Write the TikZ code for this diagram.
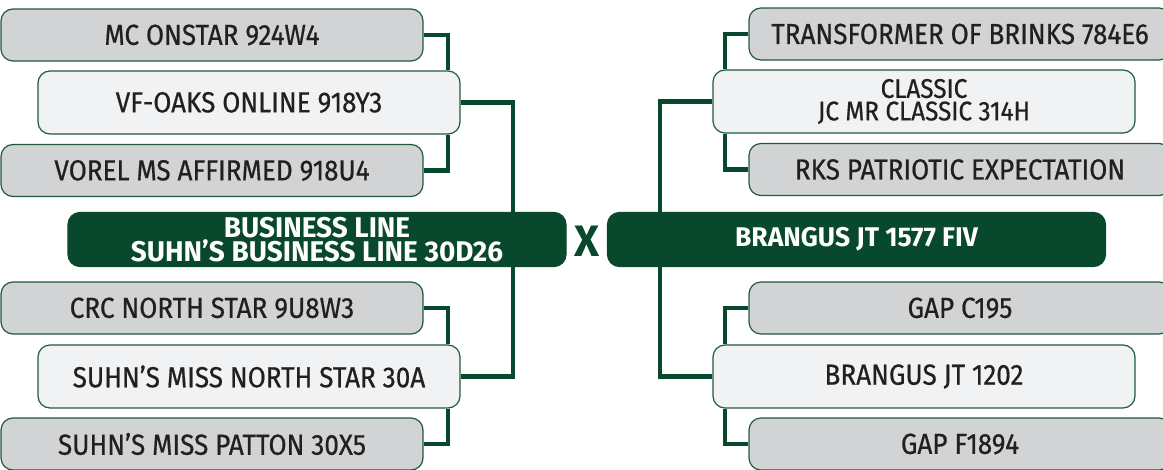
\documentclass[tikz,border=0pt]{standalone}
\usepackage{fontspec}
\setmainfont{Fira Sans}[FakeStretch=0.9, FakeBold=0.6, BoldFeatures={FakeStretch=0.98, FakeBold=0}]
\usetikzlibrary{positioning}

\definecolor{pedgreen}{HTML}{08482C}
\definecolor{pedline}{HTML}{1F5A3B}
\definecolor{pedgrey}{HTML}{D1D3D4}
\definecolor{pedlight}{HTML}{F1F2F3}
\definecolor{pedtext}{HTML}{231F20}

\begin{document}
\begin{tikzpicture}[
    x=1pt, y=-1pt,
    every node/.style={font=\fontsize{29}{22}\selectfont, text=pedtext, align=center, inner sep=0pt},
    anc/.style={draw=pedline, line width=1.2pt, rounded corners=12pt},
    outer/.style={anc, fill=pedgrey, minimum width=422pt, minimum height=52pt},
    inner/.style={anc, fill=pedlight, minimum width=422pt, minimum height=63pt},
    parent/.style={anc, fill=pedgreen, draw=pedgreen, text=white, minimum width=498pt, minimum height=54pt,
        font=\fontsize{28.5}{22}\selectfont\bfseries},
    twoline/.style={font=\fontsize{27}{22.5}\selectfont},
    link/.style={draw=pedgreen, line width=4.5pt}
]

\useasboundingbox (0,0) rectangle (1163,469);
\clip (0,0) rectangle (1163,469);

% Sire side
\node[outer]  (mc)        at (212,35)    {MC ONSTAR 924W4};
\node[inner]  (vfoaks)    at (249,102.5) {VF-OAKS ONLINE 918Y3};
\node[outer]  (vorel)     at (212,170.5) {VOREL MS AFFIRMED 918U4};
\node[parent] (sire)      at (317,239.5) {BUSINESS LINE\\SUHN’S BUSINESS LINE 30D26};
\node[outer]  (crc)       at (212,308)   {CRC NORTH STAR 9U8W3};
\node[inner]  (northstar) at (249,376.5) {SUHN’S MISS NORTH STAR 30A};
\node[outer]  (patton)    at (212,444)   {SUHN’S MISS PATTON 30X5};

% Cross mark
\node[text=pedgreen, font=\fontsize{44}{44}\selectfont\bfseries] (cross) at (587,241) {X};

% Dam side
\node[outer]  (trans)   at (960,34)    {TRANSFORMER OF BRINKS 784E6};
\node[inner, twoline] (classic) at (924,101.5) {CLASSIC\\JC MR CLASSIC 314H};
\node[outer]  (rks)     at (960,169.5) {RKS PATRIOTIC EXPECTATION};
\node[parent, font=\fontsize{27}{22}\selectfont\bfseries] (dam) at (856.5,239.5) {BRANGUS JT 1577 FIV};
\node[outer]  (gapc)    at (960,308)   {GAP C195};
\node[inner]  (brangus) at (924,376.5) {BRANGUS JT 1202};
\node[outer]  (gapf)    at (960,444)   {GAP F1894};

% Junction columns
\coordinate (jl1) at (448,0);
\coordinate (jl2) at (513,0);
\coordinate (jr1) at (725,0);
\coordinate (jr2) at (660,0);

% Connectors
\draw[link] (mc.east) -| (vfoaks.north -| jl1);
\draw[link] (vorel.east) -| (vfoaks.south -| jl1);
\draw[link] (vfoaks.east) -| (sire.north -| jl2);
\draw[link] (crc.east) -| (northstar.north -| jl1);
\draw[link] (patton.east) -| (northstar.south -| jl1);
\draw[link] (northstar.east) -| (sire.south -| jl2);

\draw[link] (trans.west) -| (classic.north -| jr1);
\draw[link] (rks.west) -| (classic.south -| jr1);
\draw[link] (classic.west) -| (dam.north -| jr2);
\draw[link] (gapc.west) -| (brangus.north -| jr1);
\draw[link] (gapf.west) -| (brangus.south -| jr1);
\draw[link] (brangus.west) -| (dam.south -| jr2);

\end{tikzpicture}
\end{document}
